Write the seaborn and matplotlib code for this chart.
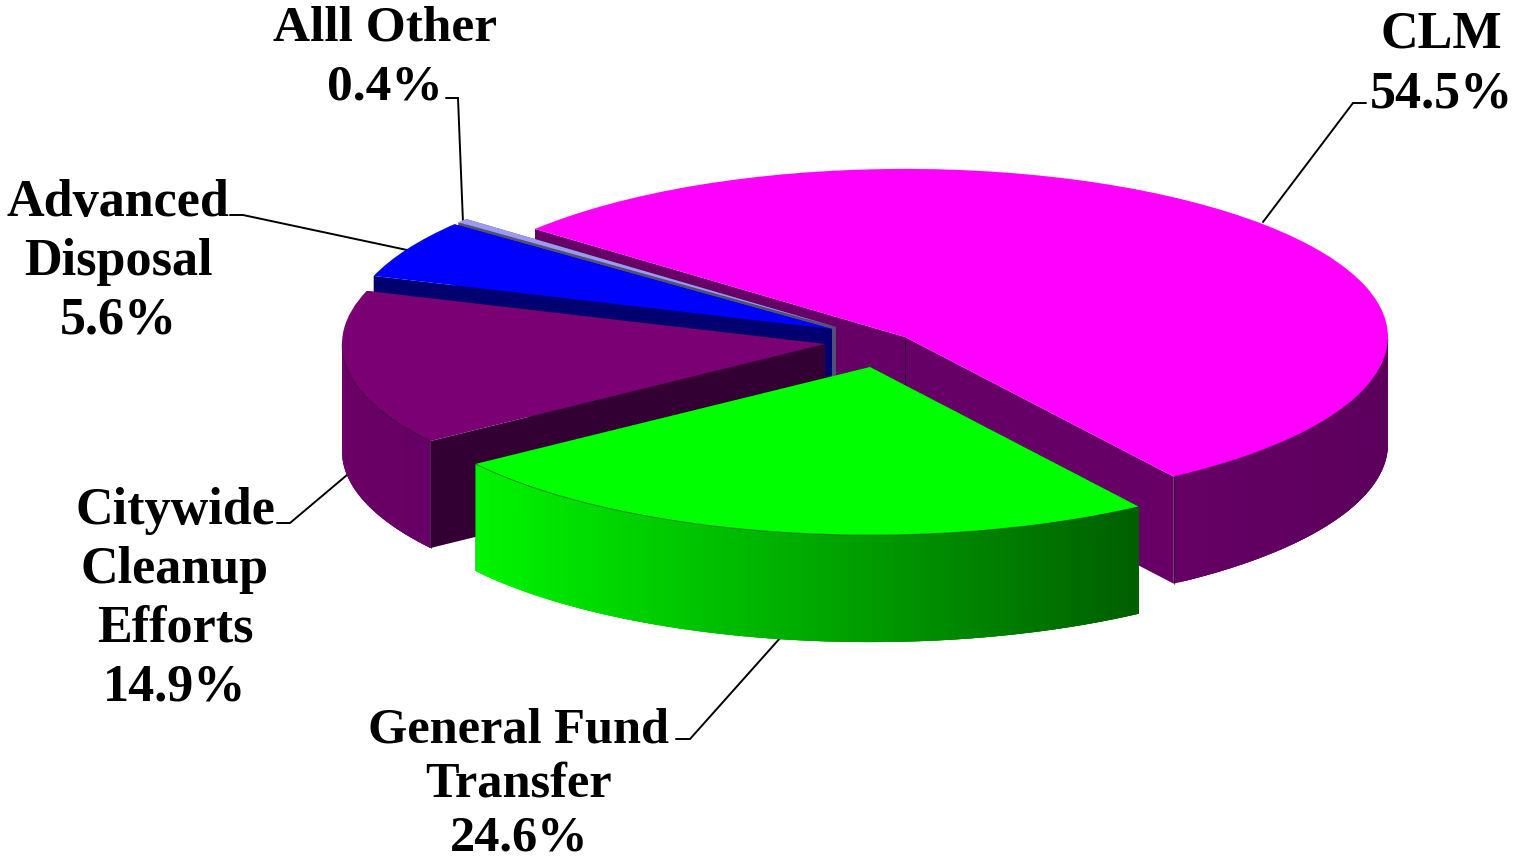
import numpy as np
import matplotlib
matplotlib.use("Agg")
import matplotlib.pyplot as plt
from matplotlib.patches import Polygon
import seaborn as sns

# ---- data ----
names = ["CLM", "General Fund\nTransfer", "Citywide\nCleanup\nEfforts", "Advanced\nDisposal", "Alll Other"]
shares = [54.5, 24.6, 14.9, 5.6, 0.4]

# ---- styles ----
top_colors = ["#FF00FF", "#00FF00", "#7A0073", "#0000FF", "#9A9AF0"]
cut_colors = ["#660066", "#006000", "#330033", "#000070", "#50507A"]
wall_start = ["#660066", "#00F500", "#6B0066", "#000070", "#50507A"]
wall_end = ["#5C005C", "#005E00", "#660066", "#000070", "#50507A"]
paint_rank = [0, 4, 3, 2, 1]  # back-to-front order of the slices
# pixel layout of the exploded slices
apex_x = [905, 870, 825, 832, 836]
apex_y = [338, 368, 345, 330, 328]
label_x = [1441, 519, 175, 118, 385]
label_y = [107, 851, 701, 334, 99]  # baseline of the last line
label_size = [37.5, 36.3, 37.5, 37.5, 37]
label_gap = [1.3, 1.24, 1.3, 1.3, 1.36]
leaders_x = [[1366, 1353, 1263], [676, 690, 781], [277, 290, 347], [230, 243, 407], [446, 458, 463]]
leaders_y = [[104, 104, 223], [740, 740, 638], [524, 524, 476], [216, 216, 251], [99, 99, 224]]
W, H = 1514, 862
RADIUS, SQUASH, DEPTH = 483, 0.348, 107

sns.set_theme(style="white")
plt.rcParams["font.family"] = ["Liberation Serif", "DejaVu Serif"]

fig = plt.figure(figsize=(W / 100, H / 100), dpi=100)
ax = fig.add_axes([0, 0, 1, 1])


def dy(py):
    return (H - py) / SQUASH


wedges, _ = ax.pie(shares, colors=top_colors, startangle=140, counterclock=False,
                   radius=RADIUS, wedgeprops=dict(linewidth=0))
ax.set_aspect("auto")
ax.set_xlim(0, W)
ax.set_ylim(0, H / SQUASH)
ax.set_axis_off()

dz = DEPTH / SQUASH
for i, w in enumerate(wedges):
    cx, cy = apex_x[i], dy(apex_y[i])
    w.set_center((cx, cy))
    base = 10 + paint_rank[i] * 10
    w.set_zorder(base + 5)

    def rim(t):
        return cx + RADIUS * np.cos(np.radians(t)), cy + RADIUS * np.sin(np.radians(t))

    # radial cut faces: back one first, front one after
    for k, t in enumerate((w.theta1, w.theta2)):
        x, y = rim(t)
        ax.add_patch(Polygon([(cx, cy), (x, y), (x, y - dz), (cx, cy - dz)], closed=True,
                             facecolor=cut_colors[i], edgecolor="none", zorder=base + 1 + k))
    # outer wall, drawn as overlapping narrow strips so that it can carry a gradient
    ts = np.linspace(w.theta1, w.theta2, 241)
    ts = ts[np.sin(np.radians(ts)) <= 1e-9]
    if len(ts) > 1:
        xs, ys = rim(ts)
        pal = sns.blend_palette([wall_start[i], wall_end[i]], 128)
        span = max(xs.max() - xs.min(), 1)
        for j in range(len(ts) - 1):
            k = min(j + 3, len(ts) - 1)
            c = pal[int(((xs[j] + xs[j + 1]) / 2 - xs.min()) / span * 127)]
            ax.add_patch(Polygon([(xs[j], ys[j]), (xs[k], ys[k]),
                                  (xs[k], ys[k] - dz), (xs[j], ys[j] - dz)],
                                 closed=True, facecolor=c, edgecolor="none", zorder=base + 3))
        ax.plot(xs, ys, color="#000000", alpha=0.35, lw=0.8, zorder=base + 6)
        if i != 1:
            low_end = 0 if abs(np.sin(np.radians(ts[0]))) > abs(np.sin(np.radians(ts[-1]))) else -1
            ax.plot([xs[low_end]] * 2, [ys[low_end], ys[low_end] - dz], color="#000000",
                    alpha=0.5, lw=0.8, zorder=base + 4)
    if i == 0:
        ax.plot([cx, cx], [cy, cy - dz], color="#000000", alpha=0.5, lw=0.8, zorder=base + 4)

for i in range(len(names)):
    ax.plot(leaders_x[i], [dy(v) for v in leaders_y[i]], color="black", lw=1.4, zorder=1,
            solid_joinstyle="miter")
    ax.text(label_x[i], dy(label_y[i]), f"{names[i]}\n{shares[i]}%", ha="center", va="baseline",
            ma="center", fontsize=label_size[i], fontweight="bold", color="black",
            linespacing=label_gap[i], zorder=80)

fig.savefig("out.png", dpi=100, facecolor="white")
